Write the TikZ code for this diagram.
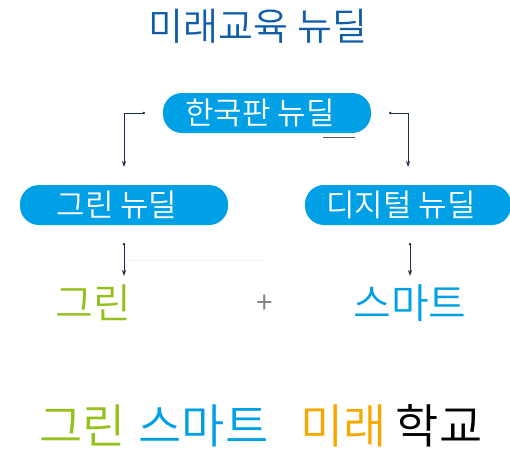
\documentclass[tikz,border=0pt]{standalone}
\usepackage{fontspec}
\newfontfamily\kr{Noto Sans CJK KR DemiLight}
\usetikzlibrary{arrows.meta}
\definecolor{titleblue}{HTML}{0F5CA8}
\definecolor{pillblue}{HTML}{00A0E6}
\definecolor{kgreen}{HTML}{95C11F}
\definecolor{korange}{HTML}{F6A800}
\definecolor{navy}{HTML}{1F2D4D}
\tikzset{
  pill/.style={fill=pillblue, rounded corners=19pt, minimum height=40pt, inner sep=0pt, text=white, font=\kr\fontsize{31}{31}\selectfont},
  conn/.style={navy, line width=0.9pt, {Circle[length=2.5pt]}-{Stealth[length=6pt,width=4pt]}},
  big/.style={inner sep=0pt, font=\kr\fontsize{41}{41}\selectfont},
  bottom/.style={inner sep=0pt, font=\kr\fontsize{47}{47}\selectfont, anchor=base}
}
\newcommand{\pilltext}[1]{\raisebox{-1.5pt}{#1}\hspace*{14pt}}
\begin{document}
\begin{tikzpicture}[x=1pt,y=1pt]
\useasboundingbox (0,0) rectangle (510,-452);
\node[titleblue, inner sep=0pt, font=\kr\fontsize{38}{38}\selectfont] (title) at (258,-26) {미래교육 뉴딜};
\node[pill, minimum width=208pt] (hk) at (267,-113) {\pilltext{한국판 뉴딜}};
\node[pill, minimum width=208pt] (gn) at (124,-205) {\pilltext{그린 뉴딜}};
\node[pill, minimum width=206pt] (dn) at (408,-205) {\pilltext{디지털 뉴딜}};
\coordinate (ls) at (145,-113);
\coordinate (le) at (124,-167);
\coordinate (rs) at (389,-113);
\coordinate (re) at (408,-167);
\draw[conn] (ls) -| (le);
\draw[conn] (rs) -| (re);
\coordinate (u1) at (323,-137);
\coordinate (u2) at (355,-137);
\draw[gray!70!black, line width=0.8pt] (u1) -- (u2);
\node[big, kgreen] (green) at (93,-303) {그린};
\node[big, pillblue] (smart) at (410,-303) {스마트};
\node[gray, inner sep=0pt, font=\kr\fontsize{30}{30}\selectfont] (plus) at (265,-304) {+};
\coordinate (la) at (124,-243);
\coordinate (lb) at (124,-276);
\coordinate (ra) at (410,-243);
\coordinate (rb) at (410,-276);
\draw[conn] (la) -- (lb);
\draw[conn] (ra) -- (rb);
\coordinate (f1) at (127,-260);
\coordinate (f2) at (265,-260);
\draw[gray!8, line width=0.8pt] (f1) -- (f2);
\node[bottom, kgreen] (b1) at (82.5,-443) {그린};
\node[bottom, pillblue] (b2) at (203.5,-443) {스마트};
\node[bottom, korange] (b3) at (343.5,-443) {미래};
\node[bottom, black] (b4) at (439,-443) {학교};
\end{tikzpicture}
\end{document}
